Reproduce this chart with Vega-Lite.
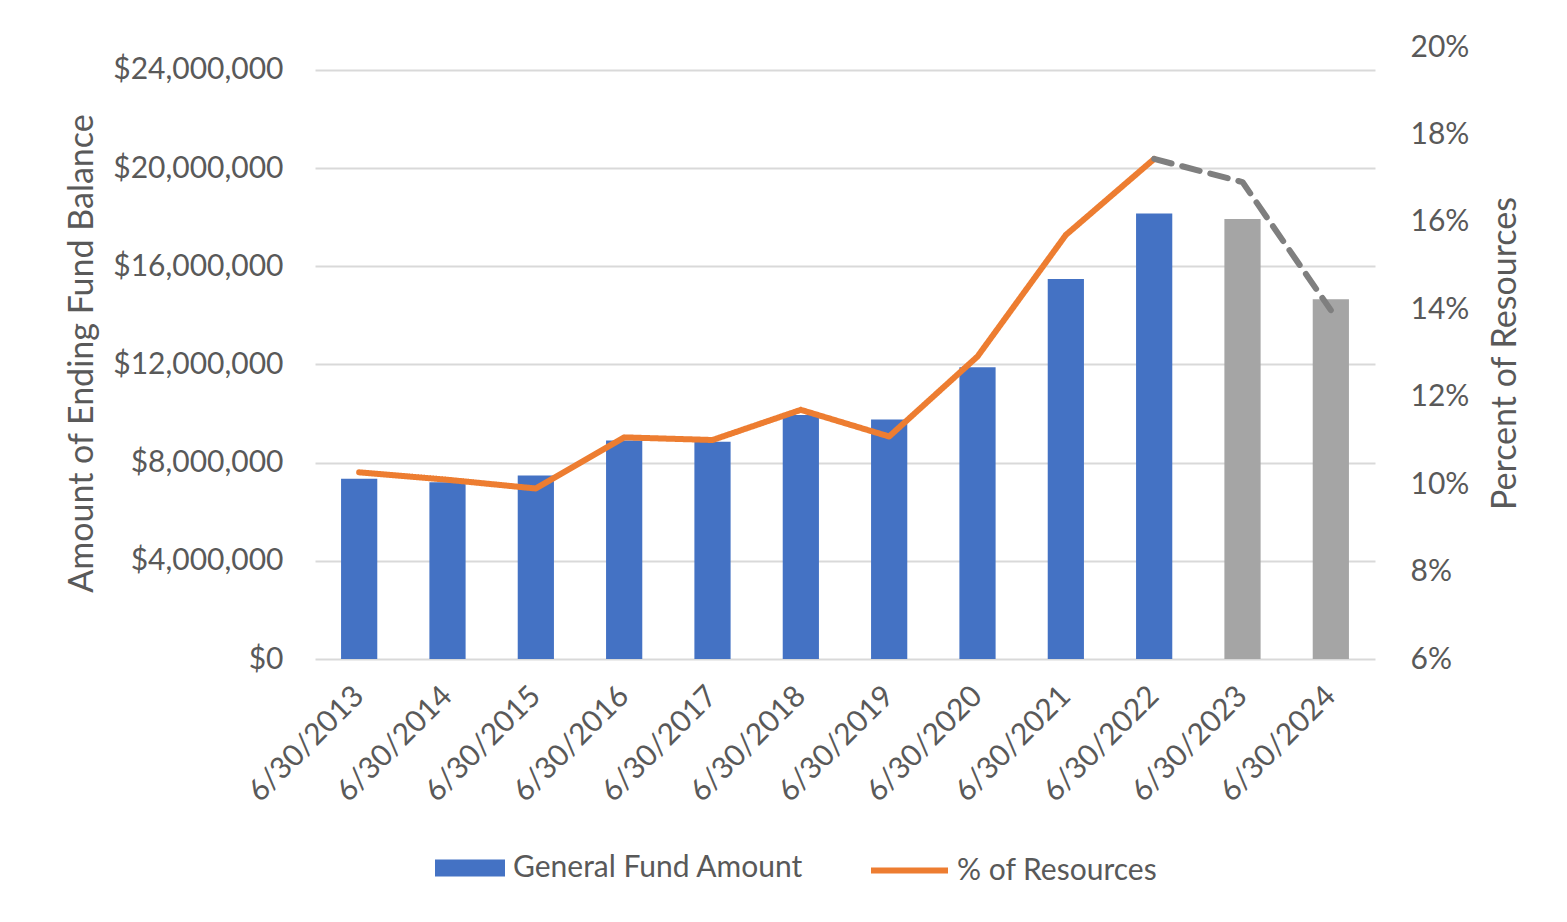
{
  "$schema": "https://vega.github.io/schema/vega-lite/v6.json",
  "width": 1060,
  "height": 612,
  "autosize": {"type": "none"},
  "padding": {"left": 315, "top": 47, "right": 192, "bottom": 263},
  "background": "white",
  "config": {
    "view": {"stroke": null},
    "font": "Lato",
    "axis": {"labelColor": "#595959", "titleColor": "#595959", "labelFont": "Lato", "titleFont": "Lato", "titleFontWeight": "normal"},
    "legend": {"labelColor": "#595959", "labelFont": "Lato", "labelLimit": 0}
  },
  "datasets": {
    "bars": [
      {"date": "6/30/2013", "amount": 7340000, "status": "General Fund Amount"},
      {"date": "6/30/2014", "amount": 7200000, "status": "General Fund Amount"},
      {"date": "6/30/2015", "amount": 7480000, "status": "General Fund Amount"},
      {"date": "6/30/2016", "amount": 8900000, "status": "General Fund Amount"},
      {"date": "6/30/2017", "amount": 8850000, "status": "General Fund Amount"},
      {"date": "6/30/2018", "amount": 9940000, "status": "General Fund Amount"},
      {"date": "6/30/2019", "amount": 9760000, "status": "General Fund Amount"},
      {"date": "6/30/2020", "amount": 11880000, "status": "General Fund Amount"},
      {"date": "6/30/2021", "amount": 15480000, "status": "General Fund Amount"},
      {"date": "6/30/2022", "amount": 18150000, "status": "General Fund Amount"},
      {"date": "6/30/2023", "amount": 17920000, "status": "Projected"},
      {"date": "6/30/2024", "amount": 14650000, "status": "Projected"}
    ],
    "pct": [
      {"date": "6/30/2013", "pct": 10.27, "series": "% of Resources"},
      {"date": "6/30/2014", "pct": 10.10, "series": "% of Resources"},
      {"date": "6/30/2015", "pct": 9.90, "series": "% of Resources"},
      {"date": "6/30/2016", "pct": 11.07, "series": "% of Resources"},
      {"date": "6/30/2017", "pct": 11.01, "series": "% of Resources"},
      {"date": "6/30/2018", "pct": 11.70, "series": "% of Resources"},
      {"date": "6/30/2019", "pct": 11.09, "series": "% of Resources"},
      {"date": "6/30/2020", "pct": 12.92, "series": "% of Resources"},
      {"date": "6/30/2021", "pct": 15.70, "series": "% of Resources"},
      {"date": "6/30/2022", "pct": 17.44, "series": "% of Resources"},
      {"date": "6/30/2022", "pct": 17.44, "series": "Projected %"},
      {"date": "6/30/2023", "pct": 16.91, "series": "Projected %"},
      {"date": "6/30/2024", "pct": 13.98, "series": "Projected %"}
    ]
  },
  "encoding": {
    "x": {
      "field": "date",
      "type": "nominal",
      "scale": {"paddingInner": 0.59, "paddingOuter": 0.295},
      "axis": {
        "title": null,
        "labelAngle": -45,
        "labelAlign": "right",
        "labelBaseline": "middle",
        "labelFontSize": 30,
        "labelPadding": 32,
        "ticks": false,
        "domain": false
      }
    }
  },
  "layer": [
    {
      "data": {"name": "bars"},
      "mark": {"type": "bar"},
      "encoding": {
        "y": {
          "field": "amount",
          "type": "quantitative",
          "scale": {"domain": [0, 24930000], "nice": false, "zero": true},
          "axis": {
            "title": "Amount of Ending Fund Balance",
            "titleFontSize": 34,
            "titlePadding": 16,
            "values": [0, 4000000, 8000000, 12000000, 16000000, 20000000, 24000000],
            "format": "$,.0f",
            "labelFontSize": 30,
            "labelPadding": 32,
            "ticks": false,
            "domain": false,
            "grid": true,
            "gridColor": "#D9D9D9",
            "gridWidth": 2
          }
        },
        "color": {
          "field": "status",
          "type": "nominal",
          "scale": {"domain": ["General Fund Amount", "Projected"], "range": ["#4472C4", "#A5A5A5"]},
          "legend": {
            "title": null,
            "values": ["General Fund Amount"],
            "orient": "none",
            "legendX": 120,
            "legendY": 786,
            "symbolType": "M-1,-0.243H1V0.243H-1Z",
            "symbolSize": 4900,
            "symbolStrokeWidth": 0,
            "labelFontSize": 30,
            "labelOffset": 8
          }
        }
      }
    },
    {
      "data": {"name": "pct"},
      "mark": {"type": "line", "strokeWidth": 6, "strokeCap": "round", "strokeJoin": "round"},
      "encoding": {
        "y": {
          "field": "pct",
          "type": "quantitative",
          "scale": {"domain": [6, 20], "nice": false, "zero": false},
          "axis": {
            "orient": "right",
            "title": "Percent of Resources",
            "titleAngle": 270,
            "titleBaseline": "top",
            "titleFontSize": 34,
            "titlePadding": 20,
            "values": [6, 8, 10, 12, 14, 16, 18, 20],
            "labelExpr": "datum.value + '%'",
            "labelFontSize": 30,
            "labelPadding": 35,
            "ticks": false,
            "domain": false,
            "grid": false
          }
        },
        "stroke": {
          "field": "series",
          "type": "nominal",
          "scale": {"domain": ["% of Resources", "Projected %"], "range": ["#ED7D31", "#7F7F7F"]},
          "legend": {
            "title": null,
            "values": ["% of Resources"],
            "orient": "none",
            "legendX": 553,
            "legendY": 782,
            "symbolType": "stroke",
            "symbolSize": 5929,
            "symbolStrokeWidth": 6,
            "labelFontSize": 30,
            "labelOffset": 6
          }
        },
        "strokeDash": {
          "field": "series",
          "type": "nominal",
          "scale": {"domain": ["% of Resources", "Projected %"], "range": [[1, 0], [18, 11]]},
          "legend": null
        }
      }
    }
  ],
  "resolve": {"scale": {"y": "independent", "color": "independent", "stroke": "independent"}}
}
